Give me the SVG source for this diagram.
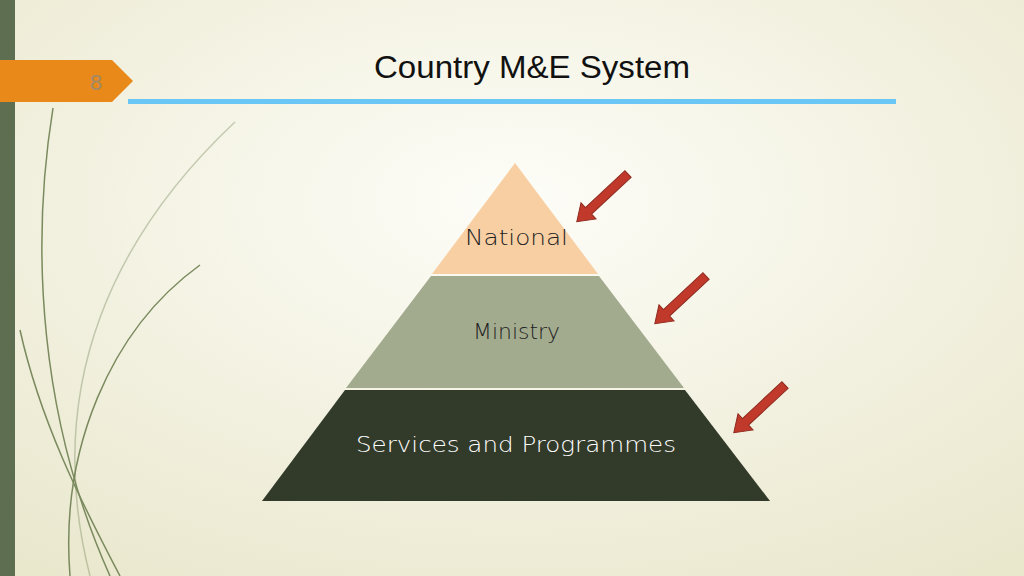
<svg xmlns="http://www.w3.org/2000/svg" xmlns:xlink="http://www.w3.org/1999/xlink" width="1024" height="576" viewBox="0 0 1024 576">
<defs>
<radialGradient id="bg" cx="0.5" cy="0.35" r="0.8">
<stop offset="0" stop-color="#fdfdf8"/><stop offset="1" stop-color="#e9e7cc"/>
</radialGradient>
<polygon id="arr" points="0,-4.5 54,-4.5 54,-11 70,0 54,11 54,4.5 0,4.5" fill="#c0392b" stroke="#8e2a1e" stroke-width="1"/>
<style>
.t{font-family:"Liberation Sans",Arial,sans-serif;}
.lbl{font-family:"DejaVu Sans",Verdana,sans-serif;font-size:22px;font-weight:300;}
.ln{fill:none;stroke:#7a8a5e;stroke-width:1.5;}
</style>
</defs>
<rect width="1024" height="576" fill="url(#bg)"/>
<rect x="0" y="0" width="15" height="576" fill="#5e6e50"/>
<g id="deco">
<path class="ln" d="M53,108 C30,250 40,420 110,576"/>
<path class="ln" d="M200,265 C110,330 60,450 70,576" stroke-width="2"/>
<path class="ln" d="M235,122 C120,230 40,380 90,576" stroke-opacity="0.4"/>
<path class="ln" d="M20,330 C40,420 80,500 120,576" stroke-width="3" stroke="#6f8a4a"/>
</g>
<g id="slidenum">
<polygon points="0,60 112,60 133,81 112,102 0,102" fill="#e8891a"/>
<text x="96" y="90" class="t" font-size="22" fill="#a08a6a" text-anchor="middle">8</text>
</g>
<rect x="128" y="99" width="768" height="5" fill="#6ac6f4"/>
<text x="374" y="78" class="t" font-size="31" fill="#111" textLength="316" lengthAdjust="spacingAndGlyphs">Country M&amp;E System</text>
<g id="national">
<polygon points="515,163 598,274 432,274" fill="#f8cfa3"/>
<text x="465" y="245" class="lbl" fill="#222" textLength="103" lengthAdjust="spacingAndGlyphs">National</text>
</g>
<g id="ministry">
<polygon points="431,276 599,276 684,388 346,388" fill="#a3ab8f"/>
<text x="473" y="339" class="lbl" fill="#222" textLength="87" lengthAdjust="spacingAndGlyphs">Ministry</text>
</g>
<g id="services">
<polygon points="345,390 685,390 770,501 262,501" fill="#323a2a"/>
<text x="356" y="452" class="lbl" fill="#fff" textLength="320" lengthAdjust="spacingAndGlyphs">Services and Programmes</text>
</g>
<g id="connectors">
<use xlink:href="#arr" transform="translate(628,174) rotate(137)"/>
<use xlink:href="#arr" transform="translate(706,276) rotate(137)"/>
<use xlink:href="#arr" transform="translate(785,385) rotate(137)"/>
</g>
</svg>
